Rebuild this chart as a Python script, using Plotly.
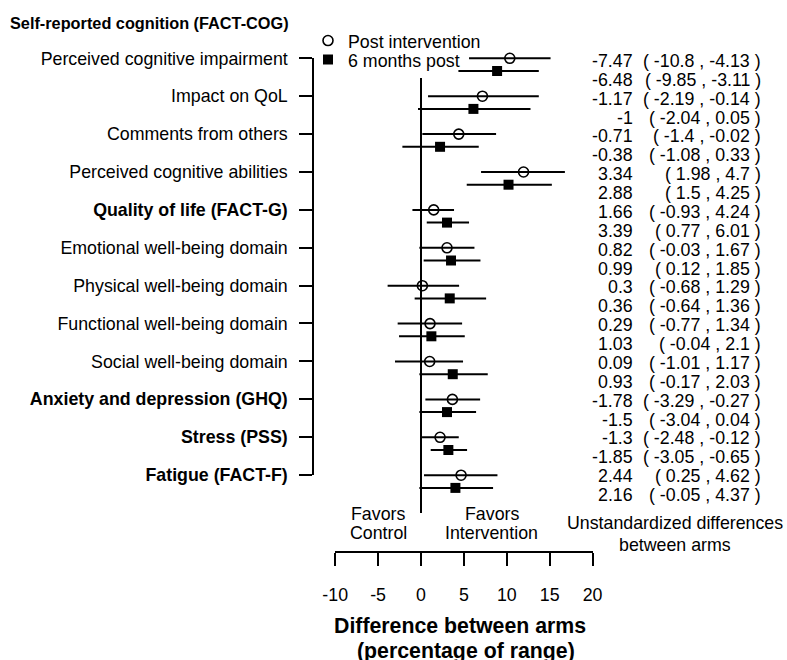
import plotly.graph_objects as go

# ---------------- data ----------------
HEADER = "Self-reported cognition (FACT-COG)"
outcomes = [
    "Perceived cognitive impairment",
    "Impact on QoL",
    "Comments from others",
    "Perceived cognitive abilities",
    "Quality of life (FACT-G)",
    "Emotional well-being domain",
    "Physical well-being domain",
    "Functional well-being domain",
    "Social well-being domain",
    "Anxiety and depression (GHQ)",
    "Stress (PSS)",
    "Fatigue (FACT-F)",
]
bold_outcomes = {"Quality of life (FACT-G)", "Anxiety and depression (GHQ)",
                 "Stress (PSS)", "Fatigue (FACT-F)"}

# percentage-of-range differences (point estimate, lower, upper)
post_est = [10.35, 7.16, 4.40, 11.95, 1.48, 3.03, 0.16, 1.05, 1.01, 3.66, 2.22, 4.67]
post_lo = [5.60, 0.82, 0.16, 7.00, -1.00, -0.19, -3.89, -2.72, -3.03, 0.51, 0.12, 0.35]
post_hi = [15.10, 13.73, 8.75, 16.77, 3.85, 6.23, 4.44, 4.79, 4.90, 6.89, 4.40, 8.91]

m6_est = [8.87, 6.11, 2.22, 10.20, 3.03, 3.50, 3.35, 1.21, 3.70, 3.03, 3.19, 4.01]
m6_lo = [4.36, -0.35, -2.17, 5.33, 0.67, 0.31, -0.74, -2.56, -0.19, -0.19, 1.13, -0.19]
m6_hi = [13.73, 12.76, 6.73, 15.25, 5.60, 6.93, 7.59, 5.10, 7.78, 6.42, 5.37, 8.40]

# unstandardized differences between arms (as printed)
post_unstd = ["-7.47", "-1.17", "-0.71", "3.34", "1.66", "0.82", "0.3", "0.29", "0.09", "-1.78", "-1.3", "2.44"]
post_unstd_ci = [("-10.8", "-4.13"), ("-2.19", "-0.14"), ("-1.4", "-0.02"), ("1.98", "4.7"),
                 ("-0.93", "4.24"), ("-0.03", "1.67"), ("-0.68", "1.29"), ("-0.77", "1.34"),
                 ("-1.01", "1.17"), ("-3.29", "-0.27"), ("-2.48", "-0.12"), ("0.25", "4.62")]
m6_unstd = ["-6.48", "-1", "-0.38", "2.88", "3.39", "0.99", "0.36", "1.03", "0.93", "-1.5", "-1.85", "2.16"]
m6_unstd_ci = [("-9.85", "-3.11"), ("-2.04", "0.05"), ("-1.08", "0.33"), ("1.5", "4.25"),
               ("0.77", "6.01"), ("0.12", "1.85"), ("-0.64", "1.36"), ("-0.04", "2.1"),
               ("-0.17", "2.03"), ("-3.04", "0.04"), ("-3.05", "-0.65"), ("-0.05", "4.37")]

x_ticks = [-10, -5, 0, 5, 10, 15, 20]
series_names = ["Post intervention", "6 months post"]

# ---------------- layout geometry ----------------
W, H = 787, 660
X0PX, XSCALE = 421.0, 8.58      # pixel of x=0, pixels per unit
Y0PX, YSCALE = 58.3, 37.9       # pixel of row 0, pixels per row
SQ_OFF = 0.335                  # second series offset (rows)
TXT_Y0, TXT_STEP = 0.071, 0.4979

FONT = "Liberation Sans, Arial, sans-serif"
FS = 17.8

def xr(px):
    return (px - X0PX) / XSCALE

def yr(px):
    return (px - Y0PX) / YSCALE

rows = list(range(len(outcomes)))
rows_sq = [r + SQ_OFF for r in rows]

fig = go.Figure()

# vertical null line at 0
fig.add_shape(type="line", xref="x", yref="y", x0=0, x1=0, y0=yr(78), y1=yr(513),
              line=dict(color="black", width=2))

fig.add_trace(go.Scatter(
    x=post_est, y=rows, mode="markers", name=series_names[0], legend="legend",
    marker=dict(symbol="circle-open", size=10, color="black", line=dict(width=1.6, color="black")),
    error_x=dict(type="data", symmetric=False,
                 array=[h - e for h, e in zip(post_hi, post_est)],
                 arrayminus=[e - l for e, l in zip(post_est, post_lo)],
                 thickness=2, width=0, color="black"),
    hoverinfo="skip"))
fig.add_trace(go.Scatter(
    x=m6_est, y=rows_sq, mode="markers", name=series_names[1], legend="legend2",
    marker=dict(symbol="square", size=10, color="black"),
    error_x=dict(type="data", symmetric=False,
                 array=[h - e for h, e in zip(m6_hi, m6_est)],
                 arrayminus=[e - l for e, l in zip(m6_est, m6_lo)],
                 thickness=2, width=0, color="black"),
    hoverinfo="skip"))

# dummy trace for the decorative axes
fig.add_trace(go.Scatter(x=[None], y=[None], xaxis="x2", yaxis="y2", showlegend=False,
                         hoverinfo="skip"))

ann = []
# right-side unstandardized differences
for i in rows:
    for j, (val, ci) in enumerate([(post_unstd[i], post_unstd_ci[i]), (m6_unstd[i], m6_unstd_ci[i])]):
        line = 2 * i + j
        yy = TXT_Y0 + TXT_STEP * line
        ann.append(dict(x=xr(635), y=yy, xref="x", yref="y", text=val, showarrow=False,
                        xanchor="right", yanchor="middle", font=dict(size=FS, family=FONT, color="black")))
        ann.append(dict(x=xr(763), y=yy, xref="x", yref="y", text=f"( {ci[0]} , {ci[1]} )",
                        showarrow=False, xanchor="right", yanchor="middle",
                        font=dict(size=FS, family=FONT, color="black")))

# header
ann.append(dict(x=8 / W, y=yr(22.7), xref="paper", yref="y", text=f"<b>{HEADER}</b>",
                showarrow=False, xanchor="left", yanchor="middle",
                font=dict(size=16.3, family=FONT, color="black")))

def txt(x, y, t, size=FS, bold=False):
    ann.append(dict(x=x, y=y, xref="x", yref="y", text=f"<b>{t}</b>" if bold else t,
                    showarrow=False, xanchor="center", yanchor="middle",
                    font=dict(size=size, family=FONT, color="black")))

txt(-5, yr(514), "Favors")
txt(-5, yr(533), "Control")
txt(8.25, yr(514), "Favors")
txt(8.25, yr(533), "Intervention")
txt(xr(675), yr(522.7), "Unstandardized differences")
txt(xr(675), yr(545), "between arms")
txt(4.6, yr(625.7), "Difference between arms", size=21.3, bold=True)
txt(5.3, yr(650.5), "(percentage of range)", size=21.3, bold=True)

ticktext = [f"<b>{o}</b>" if o in bold_outcomes else o for o in outcomes]

leg = dict(xanchor="left", yanchor="middle", bgcolor="rgba(0,0,0,0)",
           font=dict(size=FS, family=FONT, color="black"), itemclick=False)

fig.update_layout(
    width=W, height=H,
    margin=dict(l=0, r=0, t=0, b=0, autoexpand=False),
    paper_bgcolor="white", plot_bgcolor="rgba(0,0,0,0)",
    font=dict(family=FONT, size=FS, color="black"),
    showlegend=True,
    legend=dict(x=308 / W, y=1 - 41 / H, **leg),
    legend2=dict(x=308 / W, y=1 - 60 / H, **leg),
    xaxis=dict(domain=[0, 1], range=[xr(0), xr(W)], visible=False, fixedrange=True, automargin=False),
    yaxis=dict(domain=[0, 1], range=[yr(H), yr(0)], visible=False, fixedrange=True, automargin=False),
    xaxis2=dict(domain=[(X0PX - 10 * XSCALE) / W, (X0PX + 20 * XSCALE) / W],
                range=[-10, 20], anchor="free", position=1 - 551.7 / H, automargin=False,
                showline=True, linecolor="black", linewidth=2, showgrid=False, zeroline=False,
                ticks="outside", ticklen=13, tickwidth=2, tickcolor="black",
                tickvals=x_ticks, ticktext=[str(t) for t in x_ticks],
                tickfont=dict(size=FS, family=FONT, color="black"),
                ticklabelstandoff=14, fixedrange=True),
    yaxis2=dict(domain=[1 - 475 / H, 1 - 58.3 / H], range=[11, 0], anchor="free",
                position=313.3 / W, side="left", automargin=False,
                showline=True, linecolor="black", linewidth=2, showgrid=False, zeroline=False,
                ticks="outside", ticklen=13, tickwidth=2, tickcolor="black",
                tickvals=rows, ticktext=ticktext,
                tickfont=dict(size=FS, family=FONT, color="black"),
                ticklabelstandoff=8, fixedrange=True),
    annotations=ann,
)

fig.write_html("out.html", config={"displayModeBar": False},
               post_script="document.body.style.margin='0';document.body.style.overflow='hidden';")
